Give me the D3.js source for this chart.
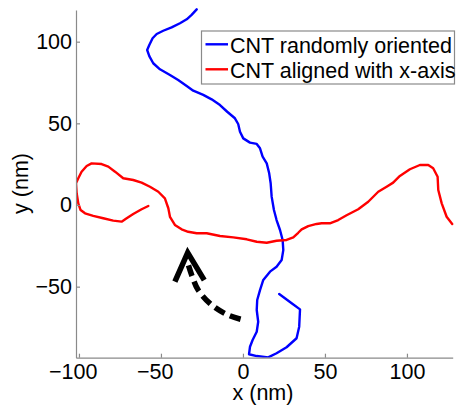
<!DOCTYPE html>
<html>
<head>
<meta charset="utf-8">
<script src="https://cdn.jsdelivr.net/npm/d3@7"></script>
<style>
  html, body { margin: 0; padding: 0; background: #fff; }
  svg { display: block; }
  text { font-family: "Liberation Sans", Arial, sans-serif; font-size: 21.5px; fill: #000; }
</style>
</head>
<body>
<svg id="chart" width="458" height="405"></svg>
<script>
// ---- data ----
const blueX = [-28.2,-31.3,-34.3,-38.4,-43.5,-48.6,-52.6,-55.1,-57.1,-58.4,-57.1,-54.7,-50.6,-44.5,-39.5,-34.3,-30.3,-24.2,-19.1,-14.0,-9.6,-4.9,-2.9,-1.8,0.2,4.3,8.4,10.4,12.0,14.5,16.0,16.9,17.5,18.9,20.5,22.6,24.2,24.6,23.6,20.5,16.5,12.4,10.4,8.7,8.4,9.3,8.4,5.9,4.3,3.7,8.4,15.4,20.5,26.6,32.7,34.3,34.8,29.7,25.6,22.1];
const blueY = [119.8,116.4,113.7,111.3,108.8,106.7,104.7,102.1,98.0,94.9,91.2,86.8,83.1,79.6,76.5,72.9,70.0,67.4,64.7,61.2,57.1,53.1,49.6,44.9,40.8,38.2,37.4,34.7,29.6,25.5,19.4,13.3,5.1,-3.1,-9.2,-15.3,-21.4,-27.6,-33.7,-37.8,-40.8,-45.9,-52.1,-58.2,-64.3,-71.5,-77.6,-82.7,-86.8,-91.4,-92.5,-93.3,-90.8,-87.1,-81.6,-74.5,-63.9,-60.2,-57.1,-54.5];
const redX = [-57.7,-61.8,-66.9,-70.9,-74.0,-79.1,-85.2,-91.3,-96.3,-99.0,-100.4,-101.4,-101.8,-100.4,-98.4,-95.3,-92.3,-86.2,-82.1,-78.0,-73.0,-66.9,-61.8,-56.7,-51.6,-47.6,-45.5,-44.5,-41.5,-37.4,-33.4,-28.2,-22.1,-14.0,-5.9,2.3,8.4,14.5,20.5,26.6,30.7,33.7,35.8,39.8,44.9,48.0,53.0,58.1,63.2,70.3,76.4,82.5,87.6,91.6,95.7,101.8,107.9,113.0,116.0,118.7,119.1,121.2,124.2,127.6];
const redY = [-0.6,-2.6,-5.5,-8.1,-10.2,-9.6,-8.1,-6.7,-5.1,-3.1,1.0,7.2,13.3,16.4,20.4,23.9,25.5,25.1,23.5,20.4,16.4,15.3,13.7,11.2,8.1,4.1,-2.0,-7.2,-12.2,-14.9,-16.4,-17.3,-17.3,-19.0,-19.8,-21.0,-22.5,-23.1,-21.9,-21.4,-19.8,-17.0,-14.9,-12.9,-11.6,-11.2,-11.2,-9.2,-6.3,-2.6,2.0,8.1,11.2,13.7,17.8,21.9,24.5,24.5,22.5,17.3,9.2,1.0,-7.2,-11.6];
const arrowX = [-33.2,-30.5,-27.3,-19.1,-9.0,0.2];
const arrowY = [-37.0,-45.0,-52.1,-61.2,-67.4,-70.4];
const headX = [-41.5,-33.7,-23.6];
const headY = [-46.9,-29.2,-46.0];
const xTicks = [-100,-50,0,50,100];
const yTicks = [-50,0,50,100];
const seriesNames = ["CNT randomly oriented","CNT aligned with x-axis"];
const seriesColors = ["#0000ff","#ff0000"];
const xLabel = "x (nm)";
const yLabel = "y (nm)";

// ---- layout ----
const svg = d3.select("#chart");
const L = 76, R = 452.7, T = 10, B = 357.7;
const x = d3.scaleLinear().domain([-101.8, 127.9]).range([L, R]);
const y = d3.scaleLinear().domain([-93.5, 119.4]).range([B, T]);
const fs = 21.5;
const axisColor = "#8a8a8a";
const fmt = d => d < 0 ? "\u2212" + Math.abs(d) : String(d);

svg.append("defs").append("clipPath").attr("id","clip")
  .append("rect").attr("x", L).attr("y", T - 2).attr("width", R - L + 2).attr("height", B - T + 2);

const line = d3.line().x(d => x(d[0])).y(d => y(d[1]));
const plot = svg.append("g").attr("clip-path","url(#clip)");

plot.append("path").datum(d3.zip(blueX, blueY)).attr("d", line)
  .attr("fill","none").attr("stroke", seriesColors[0]).attr("stroke-width", 2.4)
  .attr("stroke-linejoin","round").attr("stroke-linecap","round");
plot.append("path").datum(d3.zip(redX, redY)).attr("d", line)
  .attr("fill","none").attr("stroke", seriesColors[1]).attr("stroke-width", 2.4)
  .attr("stroke-linejoin","round").attr("stroke-linecap","round");

// arrow
const curve = d3.line().x(d => x(d[0])).y(d => y(d[1])).curve(d3.curveCatmullRom);
svg.append("path").datum(d3.zip(arrowX, arrowY)).attr("d", curve)
  .attr("fill","none").attr("stroke","#000").attr("stroke-width", 5.5)
  .attr("stroke-dasharray","11,6");
svg.append("path").datum(d3.zip(headX, headY)).attr("d", line)
  .attr("fill","none").attr("stroke","#000").attr("stroke-width", 5.5)
  .attr("stroke-linejoin","miter");

// axes
const xAxis = svg.append("g").attr("transform", `translate(0,${B})`)
  .call(d3.axisBottom(x).tickValues(xTicks).tickSizeInner(-4).tickSizeOuter(0).tickFormat(fmt));
const yAxis = svg.append("g").attr("transform", `translate(${L},0)`)
  .call(d3.axisLeft(y).tickValues(yTicks).tickSizeInner(-4).tickSizeOuter(0).tickFormat(fmt));
[xAxis, yAxis].forEach(g => {
  g.selectAll("path.domain").attr("stroke", axisColor).attr("stroke-width", 1.2);
  g.selectAll(".tick line").attr("stroke", axisColor).attr("stroke-width", 1.2);
  g.selectAll("text").attr("font-size", fs).attr("font-family", null).attr("fill", "#000");
});
xAxis.selectAll(".tick text")
  .attr("text-anchor","end")
  .attr("x", d => String(Math.abs(d)).length * 0.556 * fs / 2)
  .attr("y", 21.3).attr("dy", 0);
yAxis.selectAll(".tick text").attr("x", -4).attr("dy", "0.32em");

// axis titles
svg.append("text").attr("x", 263).attr("y", 400).attr("text-anchor","middle").text(xLabel);
svg.append("text").attr("transform","translate(28,183.5) rotate(-90)").attr("text-anchor","middle").text(yLabel);

// legend
const lg = svg.append("g");
lg.append("rect").attr("x", 201.5).attr("y", 31).attr("width", 253).attr("height", 53)
  .attr("fill","#fff").attr("stroke", axisColor).attr("stroke-width", 1.2);
seriesNames.forEach((name, i) => {
  const yy = 44.3 + i * 25;
  lg.append("line").attr("x1", 205.5).attr("x2", 228).attr("y1", yy).attr("y2", yy)
    .attr("stroke", seriesColors[i]).attr("stroke-width", 2.4);
  lg.append("text").attr("x", 230).attr("y", 52.7 + i * 25).text(name);
});
</script>
</body>
</html>
